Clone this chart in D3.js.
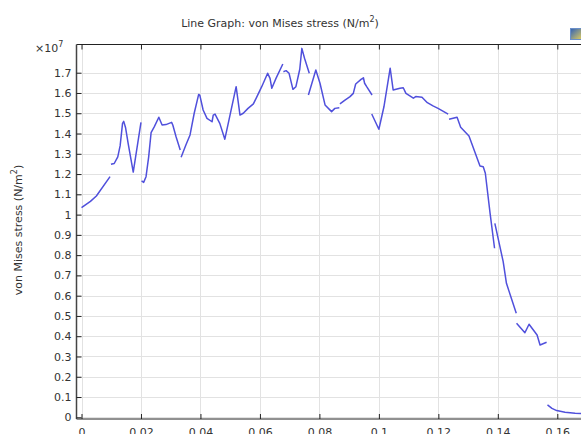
<!DOCTYPE html>
<html>
<head>
<meta charset="utf-8">
<script src="https://cdn.jsdelivr.net/npm/d3@7"></script>
<style>
  body { margin: 0; background: #fff; }
  svg { display: block; font-family: "DejaVu Sans", sans-serif; }
</style>
</head>
<body>
<svg width="581" height="434"></svg>
<script>
// arc length (m) and von Mises stress (x1e7 N/m^2); null = gap in the curve
var arcLength = [
  0, 0.003, 0.005, 0.0096, null,
  0.0099, 0.011, 0.0122, 0.013, 0.0138, 0.0142, 0.0148, 0.0157, 0.0174, 0.02, null,
  0.0202, 0.0209, 0.0217, 0.0226, 0.0234, 0.0245, 0.026, 0.0271, 0.0284, 0.0303, 0.0307, 0.0318, 0.0332, null,
  0.0335, 0.0351, 0.0365, 0.0379, 0.0394, 0.0398, 0.0409, 0.0422, 0.0439, 0.0443, 0.0449, 0.0465, 0.0482,
  0.0496, 0.052, 0.0533, 0.0544, 0.056, 0.0578, 0.059, 0.0606, 0.0626, 0.0634, 0.064, 0.0654, 0.0677, null,
  0.0679, 0.0688, 0.0698, 0.0711, 0.0721, 0.0734, 0.0741, 0.075, 0.0766, null,
  0.0763, 0.0788, 0.0802, 0.0819, 0.0841, 0.0852, 0.0867, null,
  0.0869, 0.0886, 0.0903, 0.0914, 0.0922, 0.094, 0.0948, 0.0952, 0.0959, 0.0977, null,
  0.0976, 0.1, 0.1017, 0.1038, 0.1048, 0.1071, 0.1082, 0.1091, 0.1116, 0.1124, 0.1145, 0.1163, 0.1182, 0.1199, 0.1233, null,
  0.1236, 0.1263, 0.1275, 0.1303, 0.134, 0.1351, 0.1358, 0.1374, 0.1389, null,
  0.139, 0.1418, 0.1429, 0.1462, null,
  0.1463, 0.1491, 0.1505, 0.1532, 0.1542, 0.1564, null,
  0.1567, 0.1582, 0.1598, 0.1626, 0.166, 0.169
];
var stress = [
  1.034, 1.065, 1.092, 1.187, null,
  1.248, 1.252, 1.285, 1.34, 1.45, 1.46, 1.43, 1.35, 1.21, 1.455, null,
  1.166, 1.159, 1.187, 1.286, 1.404, 1.434, 1.48, 1.442, 1.444, 1.455, 1.442, 1.384, 1.319, null,
  1.283, 1.343, 1.393, 1.5, 1.593, 1.588, 1.516, 1.475, 1.458, 1.491, 1.496, 1.45, 1.372,
  1.467, 1.631, 1.491, 1.5, 1.524, 1.546, 1.582, 1.631, 1.697, 1.672, 1.623, 1.672, 1.743, null,
  1.705, 1.71, 1.697, 1.618, 1.631, 1.717, 1.82, 1.771, 1.697, null,
  1.59, 1.713, 1.648, 1.541, 1.508, 1.524, 1.527, null,
  1.546, 1.565, 1.582, 1.598, 1.644, 1.667, 1.675, 1.648, 1.631, 1.59, null,
  1.496, 1.421, 1.532, 1.722, 1.615, 1.623, 1.626, 1.598, 1.574, 1.582, 1.579, 1.552, 1.536, 1.524, 1.496, null,
  1.47, 1.48, 1.431, 1.388, 1.24, 1.236, 1.204, 1.006, 0.834, null,
  0.957, 0.768, 0.661, 0.513, null,
  0.464, 0.417, 0.459, 0.406, 0.357, 0.37, null,
  0.061, 0.044, 0.033, 0.025, 0.02, 0.018
];
var xTicks = [0, 0.02, 0.04, 0.06, 0.08, 0.1, 0.12, 0.14, 0.16];
var yTicks = [0, 0.1, 0.2, 0.3, 0.4, 0.5, 0.6, 0.7, 0.8, 0.9, 1, 1.1, 1.2, 1.3, 1.4, 1.5, 1.6, 1.7];

var svg = d3.select('svg');
var box = {l: 76.5, t: 44.5, r: 600, b: 419};

var x = d3.scaleLinear().domain([0, 0.16]).range([81.5, 557.3]);
var y = d3.scaleLinear().domain([0, 1.7]).range([417.3, 72.7]);

var points = arcLength.map(function(d, i) { return [d, stress[i]]; });

// grid
svg.append('g').selectAll('line').data(xTicks).enter().append('line')
  .attr('x1', d => Math.round(x(d)) + 0.5).attr('x2', d => Math.round(x(d)) + 0.5)
  .attr('y1', box.t).attr('y2', box.b)
  .attr('stroke', '#e2e2e2');
svg.append('g').selectAll('line').data(yTicks).enter().append('line')
  .attr('y1', d => Math.round(y(d)) + 0.5).attr('y2', d => Math.round(y(d)) + 0.5)
  .attr('x1', box.l).attr('x2', box.r)
  .attr('stroke', '#e2e2e2');

// curve
svg.append('clipPath').attr('id', 'clip').append('rect')
  .attr('x', box.l).attr('y', box.t).attr('width', box.r - box.l).attr('height', box.b - box.t);

var line = d3.line()
  .defined(d => d[0] != null && d[1] != null)
  .x(d => x(d[0]))
  .y(d => y(d[1]));

svg.append('path')
  .datum(points)
  .attr('clip-path', 'url(#clip)')
  .attr('fill', 'none')
  .attr('stroke', '#5050dc')
  .attr('stroke-width', 1.5)
  .attr('stroke-linejoin', 'round')
  .attr('d', line);

// frame
svg.append('line').attr('x1', box.l).attr('x2', box.r).attr('y1', box.t).attr('y2', box.t)
  .attr('stroke', '#222');
svg.append('line').attr('x1', box.l).attr('x2', box.r).attr('y1', box.b).attr('y2', box.b)
  .attr('stroke', '#222');
svg.append('line').attr('x1', box.l).attr('x2', box.l).attr('y1', box.t).attr('y2', box.b)
  .attr('stroke', '#444').attr('stroke-width', 1.5);

// x axis (bottom, inward ticks) and top ticks
var xAx = svg.append('g')
  .attr('transform', 'translate(0,' + box.b + ')')
  .call(d3.axisBottom(x).tickValues(xTicks).tickSizeInner(-5).tickSizeOuter(0).tickPadding(9)
    .tickFormat(d3.format('~g')));
var xTop = svg.append('g')
  .attr('transform', 'translate(0,' + box.t + ')')
  .call(d3.axisTop(x).tickValues(xTicks).tickSizeInner(-5).tickSizeOuter(0).tickFormat(''));

var yAx = svg.append('g')
  .attr('transform', 'translate(' + box.l + ',0)')
  .call(d3.axisLeft(y).tickValues(yTicks).tickSizeInner(-5).tickSizeOuter(0).tickPadding(5)
    .tickFormat(d3.format('~g')));

[xAx, xTop, yAx].forEach(function(g) {
  g.select('.domain').remove();
  g.selectAll('.tick line').attr('stroke', '#222');
  g.selectAll('text').attr('fill', '#333').style('font-size', '11px')
    .style('font-family', '"DejaVu Sans", sans-serif');
});

// exponent label
var expo = svg.append('text').attr('x', 35).attr('y', 52)
  .attr('fill', '#333').style('font-size', '11px');
expo.append('tspan').text('\u00d710');
expo.append('tspan').attr('dy', -5).style('font-size', '8px').text('7');

// title
var title = svg.append('text').attr('x', 280).attr('y', 27)
  .attr('text-anchor', 'middle').attr('fill', '#333').style('font-size', '11px');
title.append('tspan').text('Line Graph: von Mises stress (N/m');
title.append('tspan').attr('dy', -5).style('font-size', '8px').text('2');
title.append('tspan').attr('dy', 5).text(')');

// y title
var yt = svg.append('text')
  .attr('transform', 'translate(22,230) rotate(-90)')
  .attr('text-anchor', 'middle').attr('fill', '#333').style('font-size', '11px');
yt.append('tspan').text('von Mises stress (N/m');
yt.append('tspan').attr('dy', -5).style('font-size', '8px').text('2');
yt.append('tspan').attr('dy', 5).text(')');

// small toolbar icon in the corner
var grad = svg.append('defs').append('linearGradient').attr('id', 'ig')
  .attr('x1', 0).attr('y1', 0).attr('x2', 1).attr('y2', 1);
grad.append('stop').attr('offset', 0).attr('stop-color', '#2d5fb8');
grad.append('stop').attr('offset', 1).attr('stop-color', '#e8d25a');
svg.append('rect').attr('x', 570.5).attr('y', 28.5).attr('width', 12).attr('height', 11)
  .attr('fill', 'url(#ig)').attr('stroke', '#6a8fc8');
</script>
</body>
</html>
